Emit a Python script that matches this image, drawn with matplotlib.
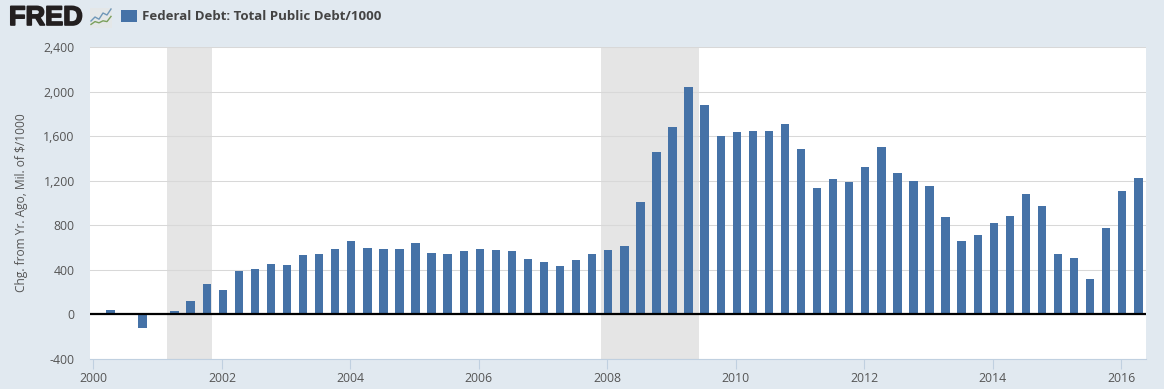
import matplotlib
matplotlib.use("Agg")
import matplotlib.pyplot as plt
import matplotlib.dates as mdates
import matplotlib.patheffects as pe
import pandas as pd

plt.rcParams['font.family'] = ['Open Sans', 'DejaVu Sans']

quarters = pd.date_range('2000-04-01', '2016-04-01', freq='QS')
change = [40, 0, -120, 0, 30, 120, 275,
          220, 390, 410, 455, 445, 535, 545, 590,
          660, 600, 590, 590, 640, 555, 545, 570,
          590, 580, 570, 500, 470, 435, 490, 545,
          580, 610, 1010, 1460, 1685, 2045, 1880, 1605,
          1640, 1645, 1650, 1710, 1485, 1135, 1215, 1190,
          1325, 1505, 1270, 1200, 1155, 870, 660, 715,
          825, 885, 1085, 975, 545, 505, 320, 775,
          1110, 1225]
recessions = [('2001-02-24', '2001-11-06'), ('2007-11-26', '2009-06-06')]
y_ticks = [-400, 0, 400, 800, 1200, 1600, 2000, 2400]
x_years = [2000, 2002, 2004, 2006, 2008, 2010, 2012, 2014, 2016]

W, H = 1164, 389
bg = '#e1e9f0'
bar_color = '#4572a7'
text_color = '#555555'

fig = plt.figure(figsize=(W / 100, H / 100), dpi=100, facecolor=bg)
ax = fig.add_axes([90 / W, 1 - 359 / H, (1146 - 90) / W, (359 - 47) / H])

dates = mdates.date2num(quarters)
# 2000-01-01 sits at x=93.3 and one year is about 64.25 px
px_day = 64.25 / 365.25
x0 = mdates.date2num(pd.Timestamp('2000-01-01'))
ax.set_xlim(x0 - 3.3 / px_day, x0 + (1146 - 93.3) / px_day)
ax.set_ylim(-400, 2400)

for start, end in recessions:
    ax.axvspan(pd.Timestamp(start), pd.Timestamp(end), color='#e5e5e5', lw=0, zorder=1)

# bars sit about 1px right of their date in the original
ax.bar(dates + 1 / px_day, change, width=8.4 / px_day, color=bar_color, lw=0, zorder=3)
ax.axhline(0, color='black', lw=1.6, zorder=4)

ax.set_yticks(y_ticks)
ax.set_yticklabels([f'{v:,}' for v in y_ticks])
ax.set_xticks([mdates.date2num(pd.Timestamp(f'{y}-01-01')) for y in x_years])
ax.set_xticklabels([str(y) for y in x_years])
ax.grid(axis='y', color='#d8d8d8', lw=0.75, zorder=2)
ax.set_axisbelow(False)

for s in ['top', 'right', 'left']:
    ax.spines[s].set_visible(False)
ax.spines['bottom'].set_color('#c0d0e0')
ax.spines['bottom'].set_linewidth(0.8)
ax.tick_params(axis='y', length=0, pad=11, labelsize=8.8, labelcolor=text_color)
ax.tick_params(axis='x', length=7, width=0.8, color='#c0d0e0', pad=2,
               labelsize=8.8, labelcolor=text_color)
for g in ax.get_ygridlines():
    g.set_zorder(2)

fig.text(22 / W, 1 - 202.5 / H, 'Chg. from Yr. Ago, Mil. of $/1000', rotation=90,
         ha='center', va='center', fontsize=8.55, color=text_color)

# header: logo and legend
logo = fig.text(9 / W, 1 - 18 / H, 'FRED', fontsize=19.5, fontweight='bold', color='#231f20',
                family='Liberation Sans', va='center', ha='left')
logo.set_path_effects([pe.withStroke(linewidth=1.2, foreground='#231f20')])
icon = fig.add_axes([90 / W, 1 - 28 / H, 22 / W, 20 / H], facecolor='#e4e7e8')
icon.set_xticks([])
icon.set_yticks([])
for s in icon.spines.values():
    s.set_visible(False)
icon.plot([0, 2, 4, 6, 8, 10], [3.5, 5.5, 4.4, 7.5, 6.5, 9.5], color='#6f97b8', lw=1)
icon.plot([0, 2, 4, 6, 8, 10], [1.8, 3.2, 2.6, 3.6, 3.2, 5.8], color='#7ba05b', lw=1)
icon.set_xlim(-0.5, 10.5)
icon.set_ylim(0, 10)

fig.patches.append(plt.Rectangle((121 / W, 1 - 22 / H), 16 / W, 12 / H, transform=fig.transFigure,
                                 facecolor=bar_color, lw=0))
fig.text(142 / W, 1 - 16.5 / H, 'Federal Debt: Total Public Debt/1000', fontsize=9.55,
         fontweight='bold', color='#444444', va='center', ha='left')

fig.savefig('out.png', dpi=100, facecolor=bg)
